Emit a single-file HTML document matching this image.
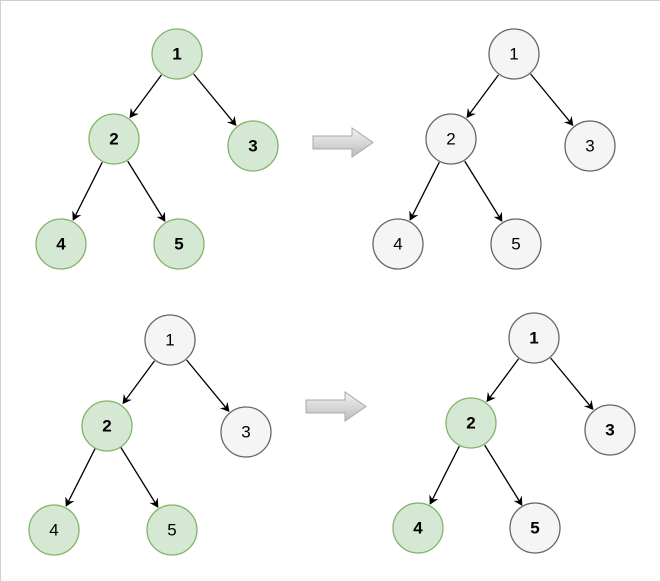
<!DOCTYPE html>
<html><head><meta charset="utf-8"><style>
html,body{margin:0;padding:0;background:#fff}
svg{display:block}
text{font-family:"Liberation Sans",Arial,sans-serif;font-size:17px;text-anchor:middle;dominant-baseline:central;fill:#000}
.g{fill:#d5e8d4;stroke:#82b366;stroke-width:1.3}
.w{fill:#f5f5f5;stroke:#666;stroke-width:1.3}
.e{stroke:#000;stroke-width:1.3;marker-end:url(#ah)}
.b{font-weight:bold}
</style></head><body>
<svg width="660" height="581" viewBox="0 0 660 581">
<defs>
<marker id="ah" markerWidth="10" markerHeight="10" refX="8" refY="5" orient="auto" markerUnits="userSpaceOnUse">
<path d="M0,0 L9,5 L0,10 L3,5 Z" fill="#000"/>
</marker>
<linearGradient id="ag" x1="0" y1="0" x2="0" y2="1">
<stop offset="0" stop-color="#f2f2f2"/><stop offset="1" stop-color="#bdbdbd"/>
</linearGradient>
<g id="edges">
<line class="e" x1="-15.5" y1="20.9" x2="-46.9" y2="63.3"/>
<line class="e" x1="16.6" y1="20" x2="58.8" y2="71.2"/>
<line class="e" x1="-74.7" y1="108.2" x2="-103.8" y2="165.9"/>
<line class="e" x1="-49.3" y1="107.1" x2="-12.2" y2="167"/>
</g>
</defs>
<rect x="0.5" y="0.5" width="670" height="590" fill="none" stroke="#d0d0d0"/>

<g transform="translate(177,54)">
<use href="#edges"/>
<circle class="g" cx="0" cy="0" r="25"/><text class="b" x="0" y="0">1</text>
<circle class="g" cx="-63" cy="85" r="25"/><text class="b" x="-63" y="85">2</text>
<circle class="g" cx="76" cy="92" r="25"/><text class="b" x="76" y="92">3</text>
<circle class="g" cx="-116" cy="190" r="25"/><text class="b" x="-116" y="190">4</text>
<circle class="g" cx="2" cy="190" r="25"/><text class="b" x="2" y="190">5</text>
</g>

<g transform="translate(514,54)">
<use href="#edges"/>
<circle class="w" cx="0" cy="0" r="25"/><text x="0" y="0">1</text>
<circle class="w" cx="-63" cy="85" r="25"/><text x="-63" y="85">2</text>
<circle class="w" cx="76" cy="92" r="25"/><text x="76" y="92">3</text>
<circle class="w" cx="-116" cy="190" r="25"/><text x="-116" y="190">4</text>
<circle class="w" cx="2" cy="190" r="25"/><text x="2" y="190">5</text>
</g>

<g transform="translate(170,340)">
<use href="#edges"/>
<circle class="w" cx="0" cy="0" r="25"/><text x="0" y="0">1</text>
<circle class="g" cx="-63" cy="86" r="25"/><text class="b" x="-63" y="86">2</text>
<circle class="w" cx="76" cy="92" r="25"/><text x="76" y="92">3</text>
<circle class="g" cx="-116" cy="190" r="25"/><text x="-116" y="190">4</text>
<circle class="g" cx="2" cy="190" r="25"/><text x="2" y="190">5</text>
</g>

<g transform="translate(534,338)">
<use href="#edges"/>
<circle class="w" cx="0" cy="0" r="25"/><text class="b" x="0" y="0">1</text>
<circle class="g" cx="-63" cy="85" r="25"/><text class="b" x="-63" y="85">2</text>
<circle class="w" cx="76" cy="92" r="25"/><text class="b" x="76" y="92">3</text>
<circle class="g" cx="-116" cy="190" r="25"/><text class="b" x="-116" y="190">4</text>
<circle class="w" cx="1" cy="190" r="25"/><text class="b" x="1" y="190">5</text>
</g>

<path d="M313,136 L352,136 L352,128 L373,142.5 L352,157 L352,149 L313,149 Z" fill="url(#ag)" stroke="#a8a8a8" stroke-width="1"/>
<path d="M306,400 L345,400 L345,392 L366,406.5 L345,421 L345,413 L306,413 Z" fill="url(#ag)" stroke="#a8a8a8" stroke-width="1"/>
</svg>
</body></html>
